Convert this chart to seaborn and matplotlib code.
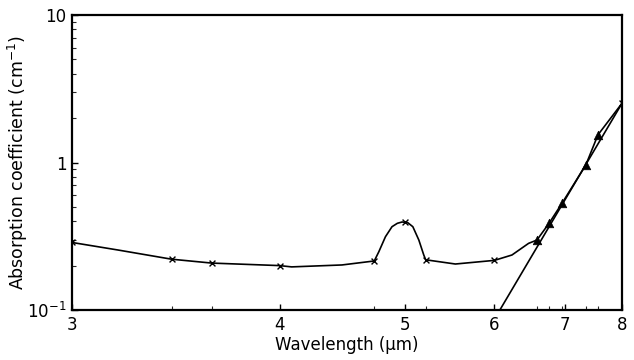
import numpy as np
import pandas as pd
import matplotlib
matplotlib.use("Agg")
import matplotlib.pyplot as plt
import matplotlib.ticker as mticker
import seaborn as sns

# ---- data ----
wl_cross = [3.0, 3.4, 3.6, 4.0, 4.72, 5.0, 5.21, 6.0, 8.0]
abs_cross = [0.287, 0.221, 0.208, 0.200, 0.215, 0.393, 0.219, 0.217, 2.52]

wl_tri = [6.58, 6.76, 6.96, 7.35, 7.56]
abs_tri = [0.298, 0.387, 0.529, 0.962, 1.54]

wl_curve = [3.0, 3.17, 3.4, 3.6, 4.0, 4.08, 4.45, 4.72, 4.76, 4.82, 4.88, 4.93,
            4.975, 5.03, 5.08, 5.14, 5.19, 5.21, 5.53, 6.0, 6.23, 6.46, 6.58,
            6.76, 6.96, 7.35, 7.56, 8.0]
abs_curve = [0.287, 0.255, 0.221, 0.208, 0.200, 0.196, 0.202, 0.215, 0.248, 0.314,
             0.367, 0.387, 0.395, 0.391, 0.367, 0.298, 0.236, 0.219, 0.205, 0.217,
             0.236, 0.283, 0.298, 0.387, 0.529, 0.962, 1.54, 2.52]

wl_fit = [6.07, 8.0]
abs_fit = [0.1, 2.52]

x_ticks = [3, 4, 5, 6, 7, 8]
x_ticklabels = ["3", "4", "5", "6", "7", "8"]
y_ticks = [0.1, 1, 10]
y_ticklabels = ["$10^{-1}$", "1", "10"]

sns.set_theme(style="ticks")
plt.rcParams["font.family"] = ["DejaVu Sans"]
plt.rcParams["mathtext.default"] = "regular"

fig = plt.figure(figsize=(6.34, 3.6), dpi=100)
ax = fig.add_axes([72 / 634, 1 - 310 / 360, 550 / 634, 295 / 360])

df_curve = pd.DataFrame({"wl": wl_curve, "a": abs_curve})
df_fit = pd.DataFrame({"wl": wl_fit, "a": abs_fit})
df_cross = pd.DataFrame({"wl": wl_cross, "a": abs_cross})
df_tri = pd.DataFrame({"wl": wl_tri, "a": abs_tri})

sns.lineplot(data=df_curve, x="wl", y="a", ax=ax, color="black", lw=1.2,
             sort=False, estimator=None)
sns.lineplot(data=df_fit, x="wl", y="a", ax=ax, color="black", lw=1.2,
             sort=False, estimator=None)
sns.scatterplot(data=df_cross, x="wl", y="a", ax=ax, marker="x", color="black",
                s=18, linewidth=1.0, zorder=5)
sns.scatterplot(data=df_tri, x="wl", y="a", ax=ax, marker="^", color="black",
                s=38, edgecolor="black", linewidth=0.5, zorder=5)


def fwd(x):
    x = np.asarray(x, dtype=float)
    return np.log10(np.clip(x - 1.9, 1e-6, None))


def inv(y):
    return 10 ** np.asarray(y, dtype=float) + 1.9


ax.set_xscale("function", functions=(fwd, inv))
ax.set_yscale("log")
ax.set_xlim(3, 8)
ax.set_ylim(0.1, 10)

ax.xaxis.set_major_locator(mticker.FixedLocator(x_ticks))
ax.xaxis.set_major_formatter(mticker.FixedFormatter(x_ticklabels))
ax.xaxis.set_minor_locator(mticker.FixedLocator(wl_cross[1:-1] + wl_tri))
ax.xaxis.set_minor_formatter(mticker.NullFormatter())

ax.yaxis.set_major_locator(mticker.FixedLocator(y_ticks))
ax.yaxis.set_major_formatter(mticker.FixedFormatter(y_ticklabels))
ax.yaxis.set_minor_locator(mticker.LogLocator(base=10, subs=np.arange(2, 10)))
ax.yaxis.set_minor_formatter(mticker.NullFormatter())

ax.tick_params(axis="both", which="major", direction="in", length=4, width=1.0,
               labelsize=12, colors="black", pad=4)
ax.tick_params(axis="both", which="minor", direction="in", length=3, width=0.8)

for sp in ax.spines.values():
    sp.set_visible(True)
    sp.set_linewidth(1.6)
    sp.set_color("black")

ax.set_xlabel("Wavelength (μm)", fontsize=12, labelpad=2, color="black")
ax.set_ylabel("Absorption coefficient (cm$^{-1}$)", fontsize=12.5, color="black")
ax.yaxis.set_label_coords(-0.076, 0.5)
ax.set_facecolor("white")
fig.patch.set_facecolor("white")

fig.savefig("out.png", dpi=100)
